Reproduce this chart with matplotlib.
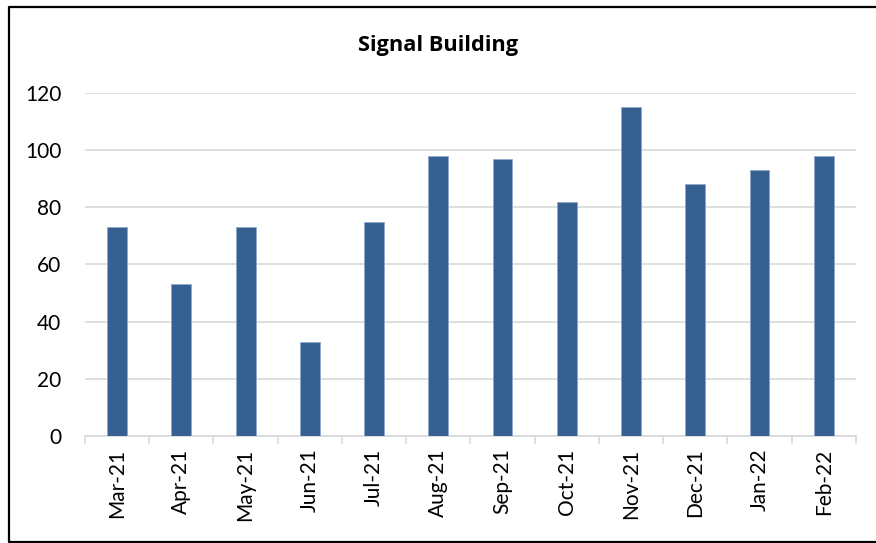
import numpy as np
import matplotlib
matplotlib.use('Agg')
import matplotlib.pyplot as plt
from matplotlib.lines import Line2D

months = ['Mar-21', 'Apr-21', 'May-21', 'Jun-21', 'Jul-21', 'Aug-21',
          'Sep-21', 'Oct-21', 'Nov-21', 'Dec-21', 'Jan-22', 'Feb-22']
values = [73, 53, 73, 33, 75, 98, 97, 82, 115, 88, 93, 98]

plt.rcParams['font.family'] = ['Lato', 'DejaVu Sans']

fig = plt.figure(figsize=(8.76, 5.43), dpi=100)
ax = fig.add_axes([0.097, 0.197, 0.880, 0.632])

x = np.arange(len(months))
ax.bar(x, values, width=0.31, color='#366092', edgecolor='#8ea9cf', linewidth=0.6, zorder=3)

ax.set_xlim(-0.5, len(months) - 0.5)
ax.set_ylim(0, 120)
ax.set_yticks(range(0, 121, 20))
ax.yaxis.grid(True, color='#d9d9d9', linewidth=1.2, zorder=0)

ax.set_xticks(x)
ax.set_xticklabels(months, rotation=90, fontsize=15)
ax.tick_params(axis='x', length=0, pad=9)
ax.set_xticks(np.arange(-0.5, len(months), 1), minor=True)
ax.tick_params(axis='x', which='minor', length=6, color='#d9d9d9', width=1.2)
ax.tick_params(axis='y', length=0, labelsize=15, pad=17)

for s in ['top', 'right', 'left']:
    ax.spines[s].set_visible(False)
ax.spines['bottom'].set_color('#d9d9d9')
ax.spines['bottom'].set_linewidth(1.2)

fig.text(0.5, 0.917, 'Signal Building', ha='center', va='center', fontsize=15.7,
         fontweight='bold', family=['Open Sans', 'DejaVu Sans'])

# outer frame: left, top and bottom edges (right edge is cut off in the original)
left, top, bottom = 8.5 / 876, 1 - 7 / 543, 1 - 541.5 / 543
fig.lines.append(Line2D([1.0, left, left, 1.0], [top, top, bottom, bottom],
                        transform=fig.transFigure, color='black', linewidth=1.6))

fig.savefig('out.png', dpi=100)
